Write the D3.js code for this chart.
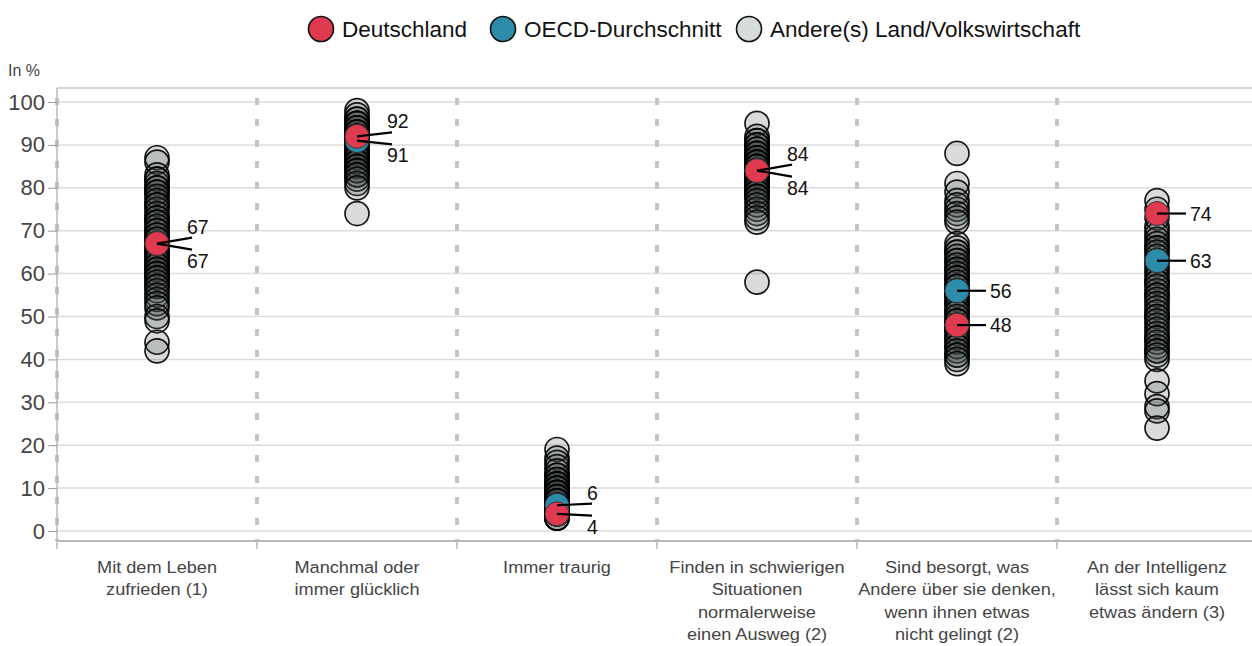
<!DOCTYPE html>
<html>
<head>
<meta charset="utf-8">
<script src="https://cdn.jsdelivr.net/npm/d3@7"></script>
<style>
  body { margin: 0; background: #fff; }
  text { font-family: "Liberation Sans", Arial, sans-serif; }
</style>
</head>
<body>
<div id="chart"></div>
<script>
// ---------------------------------------------------------------------------
// Data
// ---------------------------------------------------------------------------
const categories = [
  ["Mit dem Leben", "zufrieden (1)"],
  ["Manchmal oder", "immer glücklich"],
  ["Immer traurig"],
  ["Finden in schwierigen", "Situationen", "normalerweise", "einen Ausweg (2)"],
  ["Sind besorgt, was", "Andere über sie denken,", "wenn ihnen etwas", "nicht gelingt (2)"],
  ["An der Intelligenz", "lässt sich kaum", "etwas ändern (3)"]
];

const germany = [67, 92, 4, 84, 48, 74];
const oecd = [67, 91, 6, 84, 56, 63];

const others = [
  [87, 86, 83, 82, 82, 81, 80, 80, 79, 79, 78, 77, 76, 76, 75, 74, 73, 73, 72, 72, 71, 70, 70, 69, 69, 68, 68, 67, 66, 66, 65, 65, 64, 64, 63, 63, 62, 62, 61, 61, 60, 60, 59, 59, 58, 57, 57, 56, 55, 54, 53, 52, 50, 49, 44, 42],
  [98, 97, 96, 96, 95, 95, 95, 94, 94, 94, 93, 93, 93, 92, 92, 92, 91, 91, 91, 90, 90, 90, 89, 89, 89, 88, 88, 88, 87, 87, 86, 86, 85, 85, 84, 84, 83, 83, 82, 81, 80, 74],
  [19, 17, 16, 15, 14, 13, 13, 12, 12, 11, 11, 11, 10, 10, 10, 9, 9, 9, 8, 8, 8, 8, 7, 7, 7, 7, 6, 6, 6, 5, 5, 5, 5, 4, 4, 4, 3, 3, 3],
  [95, 92, 91, 91, 90, 90, 89, 89, 88, 88, 88, 87, 87, 87, 86, 86, 86, 85, 85, 85, 84, 84, 83, 83, 83, 82, 82, 82, 81, 81, 80, 80, 79, 79, 78, 78, 77, 76, 75, 74, 73, 72, 58],
  [88, 81, 79, 77, 76, 75, 74, 73, 72, 67, 66, 65, 65, 64, 63, 63, 62, 61, 61, 60, 59, 59, 58, 57, 57, 56, 55, 55, 54, 53, 53, 52, 51, 51, 50, 49, 49, 48, 47, 47, 46, 45, 45, 44, 43, 43, 42, 41, 41, 40, 39],
  [77, 75, 73, 71, 70, 69, 68, 67, 66, 66, 65, 64, 63, 62, 61, 60, 59, 58, 58, 57, 56, 55, 55, 54, 53, 52, 51, 50, 50, 49, 48, 47, 46, 45, 45, 44, 43, 42, 42, 41, 40, 35, 32, 29, 28, 24]
];

const yTicks = [0, 10, 20, 30, 40, 50, 60, 70, 80, 90, 100];

const legendItems = [
  { name: "Deutschland", color: "#e03a50" },
  { name: "OECD-Durchschnitt", color: "#2e8cab" },
  { name: "Andere(s) Land/Volkswirtschaft", color: "#d6dbdc" }
];

// ---------------------------------------------------------------------------
// Setup
// ---------------------------------------------------------------------------
const width = 1252, height = 646;
const plotLeft = 57, plotTop = 88, plotBottom = 541;
const radius = 12;

const svg = d3.select("#chart").append("svg")
  .attr("width", width)
  .attr("height", height);

const xScale = d3.scaleBand()
  .domain(d3.range(categories.length))
  .range([plotLeft, plotLeft + 200 * categories.length]);

const yScale = d3.scaleLinear()
  .domain([-2.33, 103.26])
  .range([plotBottom, plotTop]);

// gridlines
svg.append("g")
  .selectAll("line")
  .data(yTicks)
  .join("line")
  .attr("x1", plotLeft).attr("x2", width)
  .attr("y1", d => yScale(d)).attr("y2", d => yScale(d))
  .attr("stroke", "#dcdcdc")
  .attr("stroke-width", 1.5);

// frame
svg.append("line")
  .attr("x1", plotLeft).attr("x2", width)
  .attr("y1", plotTop).attr("y2", plotTop)
  .attr("stroke", "#c8c8c8").attr("stroke-width", 1.5);

// separators (dashed)
const seps = d3.range(categories.length + 1).map(i => plotLeft + i * xScale.bandwidth());
svg.append("g")
  .selectAll("line")
  .data(seps)
  .join("line")
  .attr("x1", d => d).attr("x2", d => d)
  .attr("y1", plotTop + 10).attr("y2", plotBottom)
  .attr("stroke", "#c4c4c4")
  .attr("stroke-width", 4)
  .attr("stroke-dasharray", "7,14");

// y axis
const yAxis = d3.axisLeft(yScale)
  .tickValues(yTicks)
  .tickSize(9)
  .tickPadding(3);

const yG = svg.append("g")
  .attr("transform", "translate(" + plotLeft + ",0)")
  .call(yAxis);
yG.select(".domain").attr("stroke", "#b8b8b8").attr("stroke-width", 1.5)
  .attr("d", "M0," + plotTop + "V" + plotBottom);
yG.selectAll(".tick line").attr("stroke", "#999");
yG.selectAll(".tick text")
  .attr("fill", "#444")
  .style("font-size", "22px");

// x axis
svg.append("line")
  .attr("x1", plotLeft).attr("x2", width)
  .attr("y1", plotBottom).attr("y2", plotBottom)
  .attr("stroke", "#b8b8b8").attr("stroke-width", 2);

svg.append("g")
  .selectAll("line")
  .data(seps)
  .join("line")
  .attr("x1", d => d).attr("x2", d => d)
  .attr("y1", plotBottom).attr("y2", plotBottom + 8)
  .attr("stroke", "#b8b8b8").attr("stroke-width", 1.5);

svg.append("text")
  .attr("x", 8).attr("y", 76)
  .attr("fill", "#444")
  .style("font-size", "16px")
  .text("In %");

// category labels (slightly stretched like the original)
const catG = svg.append("g")
  .selectAll("text")
  .data(categories)
  .join("text")
  .attr("text-anchor", "middle")
  .attr("fill", "#444")
  .style("font-size", "16.5px")
  .attr("transform", (d, i) => "translate(" + (xScale(i) + xScale.bandwidth() / 2) + ",573) scale(1.1,1)");

catG.selectAll("tspan")
  .data(d => d)
  .join("tspan")
  .attr("x", 0)
  .attr("y", (d, i) => i * 22.5)
  .text(d => d);

// ---------------------------------------------------------------------------
// Circles
// ---------------------------------------------------------------------------
const cx = i => xScale(i) + xScale.bandwidth() / 2;

const points = [];
others.forEach((vals, i) => vals.forEach(v => points.push({ i: i, v: v })));

// dark fill at low opacity: single circles stay light, stacks get dark
svg.append("g")
  .selectAll("circle")
  .data(points)
  .join("circle")
  .attr("cx", d => cx(d.i))
  .attr("cy", d => yScale(d.v))
  .attr("r", radius)
  .attr("fill", "#3f4a4c")
  .attr("fill-opacity", 0.2)
  .attr("stroke", "#000")
  .attr("stroke-opacity", 0.9)
  .attr("stroke-width", 1.7);

// leader lines + labels
const labelG = svg.append("g");
categories.forEach((c, i) => {
  const pair = [
    { v: germany[i], color: legendItems[0].color, de: true },
    { v: oecd[i], color: legendItems[1].color, de: false }
  ];
  const x0 = cx(i);
  const close = Math.abs(pair[0].v - pair[1].v) < 5;
  if (close) {
    // higher value on top, Germany first if tied
    const sorted = pair.slice().sort((a, b) => b.v - a.v || (b.de - a.de));
    const ymid = (yScale(sorted[0].v) + yScale(sorted[1].v)) / 2;
    sorted.forEach((p, k) => {
      const s = k === 0 ? -1 : 1;
      p.lx = x0 + 35; p.ly = ymid + s * 6;
      p.tx = x0 + 30; p.ty = ymid + s * 17;
    });
  } else {
    pair.forEach(p => {
      p.lx = x0 + 29; p.ly = yScale(p.v);
      p.tx = x0 + 33; p.ty = yScale(p.v);
    });
  }
  // OECD first, Germany on top
  [pair[1], pair[0]].forEach(p => {
    labelG.append("circle")
      .attr("cx", x0).attr("cy", yScale(p.v))
      .attr("r", radius)
      .attr("fill", p.color)
      .attr("stroke", "#333")
      .attr("stroke-width", 1);
  });
  pair.forEach(p => {
    labelG.append("line")
      .attr("x1", x0).attr("y1", yScale(p.v))
      .attr("x2", p.lx).attr("y2", p.ly)
      .attr("stroke", "#000").attr("stroke-width", 2.2);
    labelG.append("text")
      .attr("x", p.tx).attr("y", p.ty)
      .attr("dominant-baseline", "central")
      .attr("fill", "#111")
      .style("font-size", "19.5px")
      .text(p.v);
  });
});

// ---------------------------------------------------------------------------
// Legend
// ---------------------------------------------------------------------------
const legendX = [321, 503, 749];
const legend = svg.append("g")
  .selectAll("g")
  .data(legendItems)
  .join("g")
  .attr("transform", (d, i) => "translate(" + legendX[i] + ",29)");

legend.append("circle")
  .attr("r", 12.5)
  .attr("fill", d => d.color)
  .attr("stroke", "#111")
  .attr("stroke-width", 1.6);

legend.append("text")
  .attr("x", 21)
  .attr("dominant-baseline", "central")
  .attr("fill", "#111")
  .style("font-size", "22.5px")
  .text(d => d.name);
</script>
</body>
</html>
